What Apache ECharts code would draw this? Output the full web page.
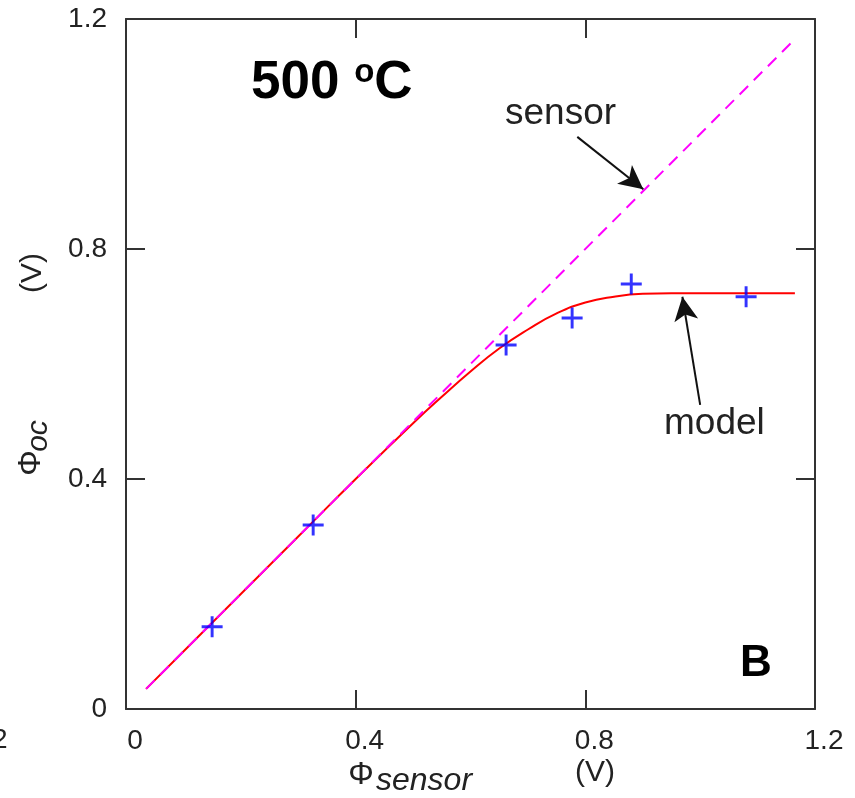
<!DOCTYPE html>
<html>
<head>
<meta charset="utf-8">
<script src="https://cdn.jsdelivr.net/npm/echarts@6/dist/echarts.min.js"></script>
<style>
html,body{margin:0;padding:0;background:#fff;}
#chart{width:855px;height:798px;}
</style>
</head>
<body>
<div id="chart"></div>
<script>
// ---- data ----
const tickValues = [0, 0.4, 0.8, 1.2];
const measuredX = [0.150, 0.326, 0.662, 0.777, 0.880, 1.080];
const measuredY = [0.143, 0.320, 0.633, 0.680, 0.739, 0.717];
const sensorX = [0.035, 1.165];
const sensorY = [0.035, 1.165];
const modelX = [0.035, 0.1, 0.2, 0.3, 0.4, 0.5, 0.55, 0.6, 0.65, 0.7, 0.75, 0.8, 0.85, 0.9, 0.95, 1.0, 1.1, 1.165];
const modelY = [0.035, 0.1, 0.2, 0.3, 0.4, 0.497, 0.543, 0.587, 0.627, 0.660, 0.688, 0.707, 0.717, 0.722, 0.723, 0.723, 0.723, 0.723];
const sensorArrow = [[0.786, 0.995], [0.901, 0.904]];
const modelArrow = [[1.0, 0.529], [0.969, 0.717]];

const FONT = "'Liberation Sans', Arial, sans-serif";
const zip = (a, b) => a.map((v, i) => [v, b[i]]);

const chart = echarts.init(document.getElementById('chart'), null, {renderer: 'canvas'});

function axisBase(showLabel, extra) {
  return Object.assign({
    type: 'value', min: 0, max: 1.2, interval: 0.4,
    axisLine: {show: true, onZero: false, lineStyle: {color: '#333', width: 2}},
    axisTick: {show: true, inside: true, length: 19, lineStyle: {color: '#333', width: 2}},
    splitLine: {show: false},
    axisLabel: {show: showLabel, color: '#222', fontSize: 28, fontFamily: FONT,
      formatter: v => String(Math.round(v * 10) / 10)}
  }, extra || {});
}

const xBottom = axisBase(true, {position: 'bottom'});
xBottom.axisLabel.margin = 18;
xBottom.axisLabel.padding = [0, 0, 0, 18];
const xTop = axisBase(false, {position: 'top'});
const yLeft = axisBase(true, {position: 'left'});
yLeft.axisLabel.margin = 19;
const yRight = axisBase(false, {position: 'right'});

function arrowLine(a) {
  return [{coord: a[0]}, {coord: a[1]}];
}

const option = {
  backgroundColor: '#fff',
  animation: false,
  grid: {left: 126, right: 40, top: 19, bottom: 89, containLabel: false},
  xAxis: [xBottom, xTop],
  yAxis: [yLeft, yRight],
  series: [
    {
      name: 'model', type: 'line', xAxisIndex: 0, yAxisIndex: 0,
      data: zip(modelX, modelY), smooth: true, showSymbol: false,
      lineStyle: {color: '#ff0000', width: 2}, z: 2,
      markLine: {
        silent: true, symbol: ['none', 'arrow'], symbolSize: [18, 24],
        label: {show: false},
        lineStyle: {color: '#111', width: 2, type: 'solid'},
        data: [arrowLine(sensorArrow), arrowLine(modelArrow)]
      }
    },
    {
      name: 'sensor', type: 'line', xAxisIndex: 0, yAxisIndex: 0,
      data: zip(sensorX, sensorY), showSymbol: false,
      lineStyle: {color: '#ff00ff', width: 2, type: [12, 8]}, z: 3
    },
    {
      name: 'measured', type: 'scatter', xAxisIndex: 0, yAxisIndex: 0,
      data: zip(measuredX, measuredY),
      symbol: 'path://M43,0H57V43H100V57H57V100H43V57H0V43H43Z',
      symbolSize: 21,
      itemStyle: {color: '#0000ff'}, z: 4
    }
  ],
  graphic: [
    {type: 'text', x: -8, y: 740, style: {text: '2', font: '28px ' + FONT, fill: '#222', verticalAlign: 'middle'}},
    {type: 'text', x: 251, y: 83, style: {
      text: '{a|500 }{o|o}{a|C}', verticalAlign: 'middle', fill: '#000',
      rich: {
        a: {fontSize: 53, fontWeight: 'bold', fontFamily: FONT, fill: '#000', verticalAlign: 'bottom'},
        o: {fontSize: 33, fontWeight: 'bold', fontFamily: FONT, fill: '#000', verticalAlign: 'top'}
      }}},
    {type: 'text', x: 505, y: 114, style: {text: 'sensor', font: '37px ' + FONT, fill: '#222', verticalAlign: 'middle'}},
    {type: 'text', x: 664, y: 424, style: {text: 'model', font: '37px ' + FONT, fill: '#222', verticalAlign: 'middle'}},
    {type: 'text', x: 740, y: 664, style: {text: 'B', font: 'bold 44px ' + FONT, fill: '#000', verticalAlign: 'middle'}},
    // x-axis title
    {type: 'text', x: 361, y: 775, style: {text: 'Φ', font: '32px ' + FONT, fill: '#222', align: 'center', verticalAlign: 'middle'}},
    {type: 'text', x: 376, y: 781, style: {text: 'sensor', font: 'italic 32px ' + FONT, fill: '#222', verticalAlign: 'middle'}},
    {type: 'text', x: 595, y: 773, style: {text: '(V)', font: '30px ' + FONT, fill: '#222', align: 'center', verticalAlign: 'middle'}},
    // y-axis title (rotated)
    {type: 'text', x: 31, y: 463, rotation: Math.PI / 2, style: {text: 'Φ', font: '32px ' + FONT, fill: '#222', align: 'center', verticalAlign: 'middle'}},
    {type: 'text', x: 39, y: 436, rotation: Math.PI / 2, style: {text: 'oc', font: 'italic 30px ' + FONT, fill: '#222', align: 'center', verticalAlign: 'middle'}},
    {type: 'text', x: 33, y: 273, rotation: Math.PI / 2, style: {text: '(V)', font: '30px ' + FONT, fill: '#222', align: 'center', verticalAlign: 'middle'}}
  ]
};
chart.setOption(option);
</script>
</body>
</html>
